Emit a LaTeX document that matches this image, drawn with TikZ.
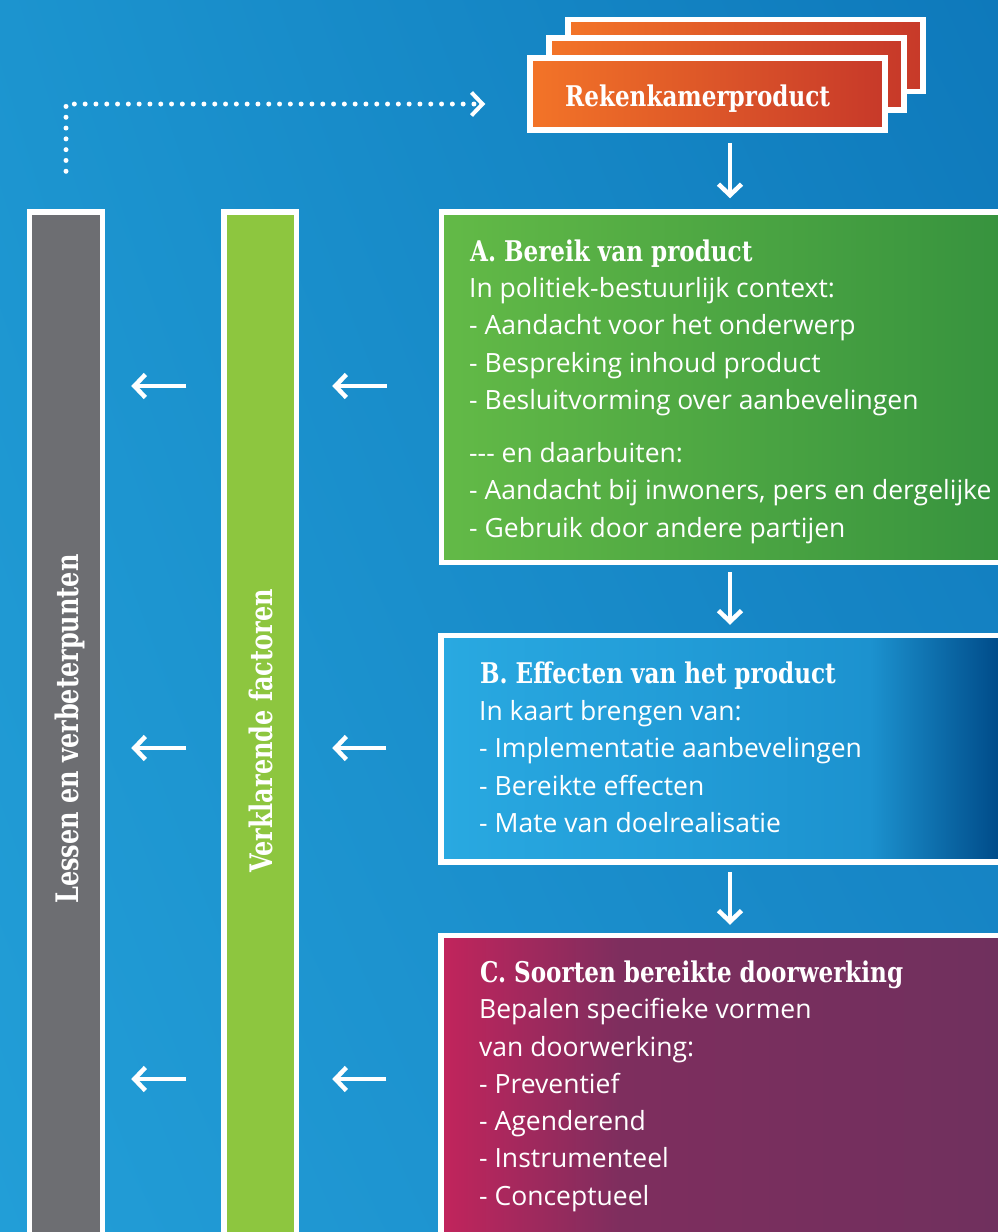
\documentclass[tikz,border=0pt]{standalone}
\usepackage{fontspec}
\usetikzlibrary{arrows.meta,shadings}
\newfontfamily\bodyfont{Open Sans}
\newfontfamily\slabfont[FakeStretch=0.9]{DejaVu Serif Condensed}
\newfontfamily\slabvfont[FakeStretch=0.86]{DejaVu Serif Condensed}
\definecolor{bgUL}{RGB}{28,148,207}
\definecolor{bgUR}{RGB}{14,121,187}
\definecolor{bgLL}{RGB}{34,158,215}
\definecolor{bgLR}{RGB}{25,136,200}
\definecolor{orL}{RGB}{243,116,40}
\definecolor{orR}{RGB}{199,57,41}
\definecolor{grL}{RGB}{99,186,71}
\definecolor{grR}{RGB}{54,146,62}
\definecolor{blL}{RGB}{41,169,225}
\definecolor{blM}{RGB}{28,146,207}
\definecolor{blR}{RGB}{0,76,138}
\definecolor{crL}{RGB}{194,36,92}
\definecolor{crM}{RGB}{126,46,94}
\definecolor{crR}{RGB}{112,48,94}
\definecolor{colgray}{RGB}{109,110,114}
\definecolor{colgreen}{RGB}{141,198,63}
\tikzset{
  frame/.style={draw=white, line width=5.5pt, inner sep=0pt},
  obox/.style={frame, left color=orL, right color=orR, minimum width=355pt, minimum height=72pt},
  body/.style={font=\bodyfont\fontsize{26.5}{30}\selectfont, text=white, inner sep=0pt, anchor=base west},
  ttl/.style={font=\slabfont\bfseries\fontsize{28.5}{32}\selectfont, text=white, inner sep=0pt, anchor=base west},
  vtxt/.style={font=\slabvfont\bfseries\fontsize{31}{34}\selectfont, text=white, inner sep=0pt, anchor=base, rotate=90},
  arr/.style={draw=white, line width=4.5pt, -{Straight Barb[length=11pt,width=23pt]}},
  dots/.style={draw=white, line width=5pt, line cap=round, dash pattern=on 0pt off 10.8pt, -{Straight Barb[length=11pt,width=23pt,line width=4pt]}}
}
\begin{document}
\begin{tikzpicture}[x=1pt,y=-1pt]
\useasboundingbox (0,0) rectangle (998,1232);
\clip (0,0) rectangle (998,1232);
% background
\shade[upper left=bgUL, upper right=bgUR, lower left=bgLL, lower right=bgLR] (0,0) rectangle (998,1232);
% stacked product boxes
\node[obox] (prod3) at (745.5,55.5) {};
\node[obox] (prod2) at (726.5,74) {};
\node[obox] (prod) at (707.5,94) {};
\node[ttl] (prodtxt) at (565,106) {Rekenkamerproduct};
% columns
\node[frame, fill=colgray, minimum width=73pt, minimum height=1048pt] (gray) at (66,736) {};
\node[frame, fill=colgreen, minimum width=72.5pt, minimum height=1048pt] (green) at (260.25,736) {};
\node[vtxt] (vL) at (78,729) {Lessen en verbeterpunten};
\node[vtxt] (vV) at (272,731) {Verklarende factoren};
% box A
\node[frame, left color=grL, right color=grR, minimum width=573.5pt, minimum height=350.5pt] (boxA) at (728.25,387.25) {};
% box B
\fill[left color=blL, right color=blM] (441,635.5) rectangle (870,862);
\fill[left color=blM, right color=blR] (870,635.5) rectangle (998,862);
\node[frame, minimum width=574pt, minimum height=226.5pt] (boxB) at (728,748.75) {};
% box C
\fill[left color=crL, right color=crM] (441,935.5) rectangle (620,1240);
\fill[left color=crM, right color=crR] (620,935.5) rectangle (998,1240);
\node[frame, minimum width=574pt, minimum height=324.5pt] (boxC) at (728,1097.75) {};
% texts A
\node[ttl] (tA) at (470,261) {A. Bereik van product};
\foreach \yy/\tt [count=\i] in {297/{In politiek-bestuurlijk context:},334.5/{- Aandacht voor het onderwerp},372/{- Bespreking inhoud product},409.5/{- Besluitvorming over aanbevelingen},462/{--- en daarbuiten:},499.5/{- Aandacht bij inwoners, pers en dergelijke},537/{- Gebruik door andere partijen}}
  \node[body] (A\i) at (469,\yy) {\tt};
% texts B
\node[ttl] (tB) at (480,683) {B. Effecten van het product};
\foreach \yy/\tt [count=\i] in {720/{In kaart brengen van:},757/{- Implementatie aanbevelingen},795/{- Bereikte effecten},832/{- Mate van doelrealisatie}}
  \node[body] (B\i) at (479,\yy) {\tt};
% texts C
\node[ttl] (tC) at (480,982) {C. Soorten bereikte doorwerking};
\foreach \yy/\tt [count=\i] in {1018/{Bepalen specifieke vormen},1056/{van doorwerking:},1093/{- Preventief},1130/{- Agenderend},1167/{- Instrumenteel},1205/{- Conceptueel}}
  \node[body] (C\i) at (479,\yy) {\tt};
% helper coordinates
\coordinate (colx) at (730,0);
\coordinate (rA) at (0,386);
\coordinate (rB) at (0,748);
\coordinate (rC) at (0,1079);
\coordinate (dl) at (66,104);
% down arrows
\draw[arr, shorten <=10pt, shorten >=11pt] (prod.south -| colx) -- (boxA.north -| colx);
\draw[arr, shorten <=7pt, shorten >=8pt] (boxA.south -| colx) -- (boxB.north -| colx);
\draw[arr, shorten <=7pt, shorten >=8pt] (boxB.south -| colx) -- (boxC.north -| colx);
% left arrows
\foreach \r/\b in {rA/boxA, rB/boxB, rC/boxC}{
  \draw[arr, shorten <=52pt, shorten >=33pt] (\b.west |- \r) -- (green.east |- \r);
  \draw[arr, shorten <=35pt, shorten >=26pt] (green.west |- \r) -- (gray.east |- \r);
}
% dotted feedback line
\draw[dots, shorten <=38pt, shorten >=42pt] (gray.north) -- (dl) -- (dl -| prod.west);
\end{tikzpicture}
\end{document}
